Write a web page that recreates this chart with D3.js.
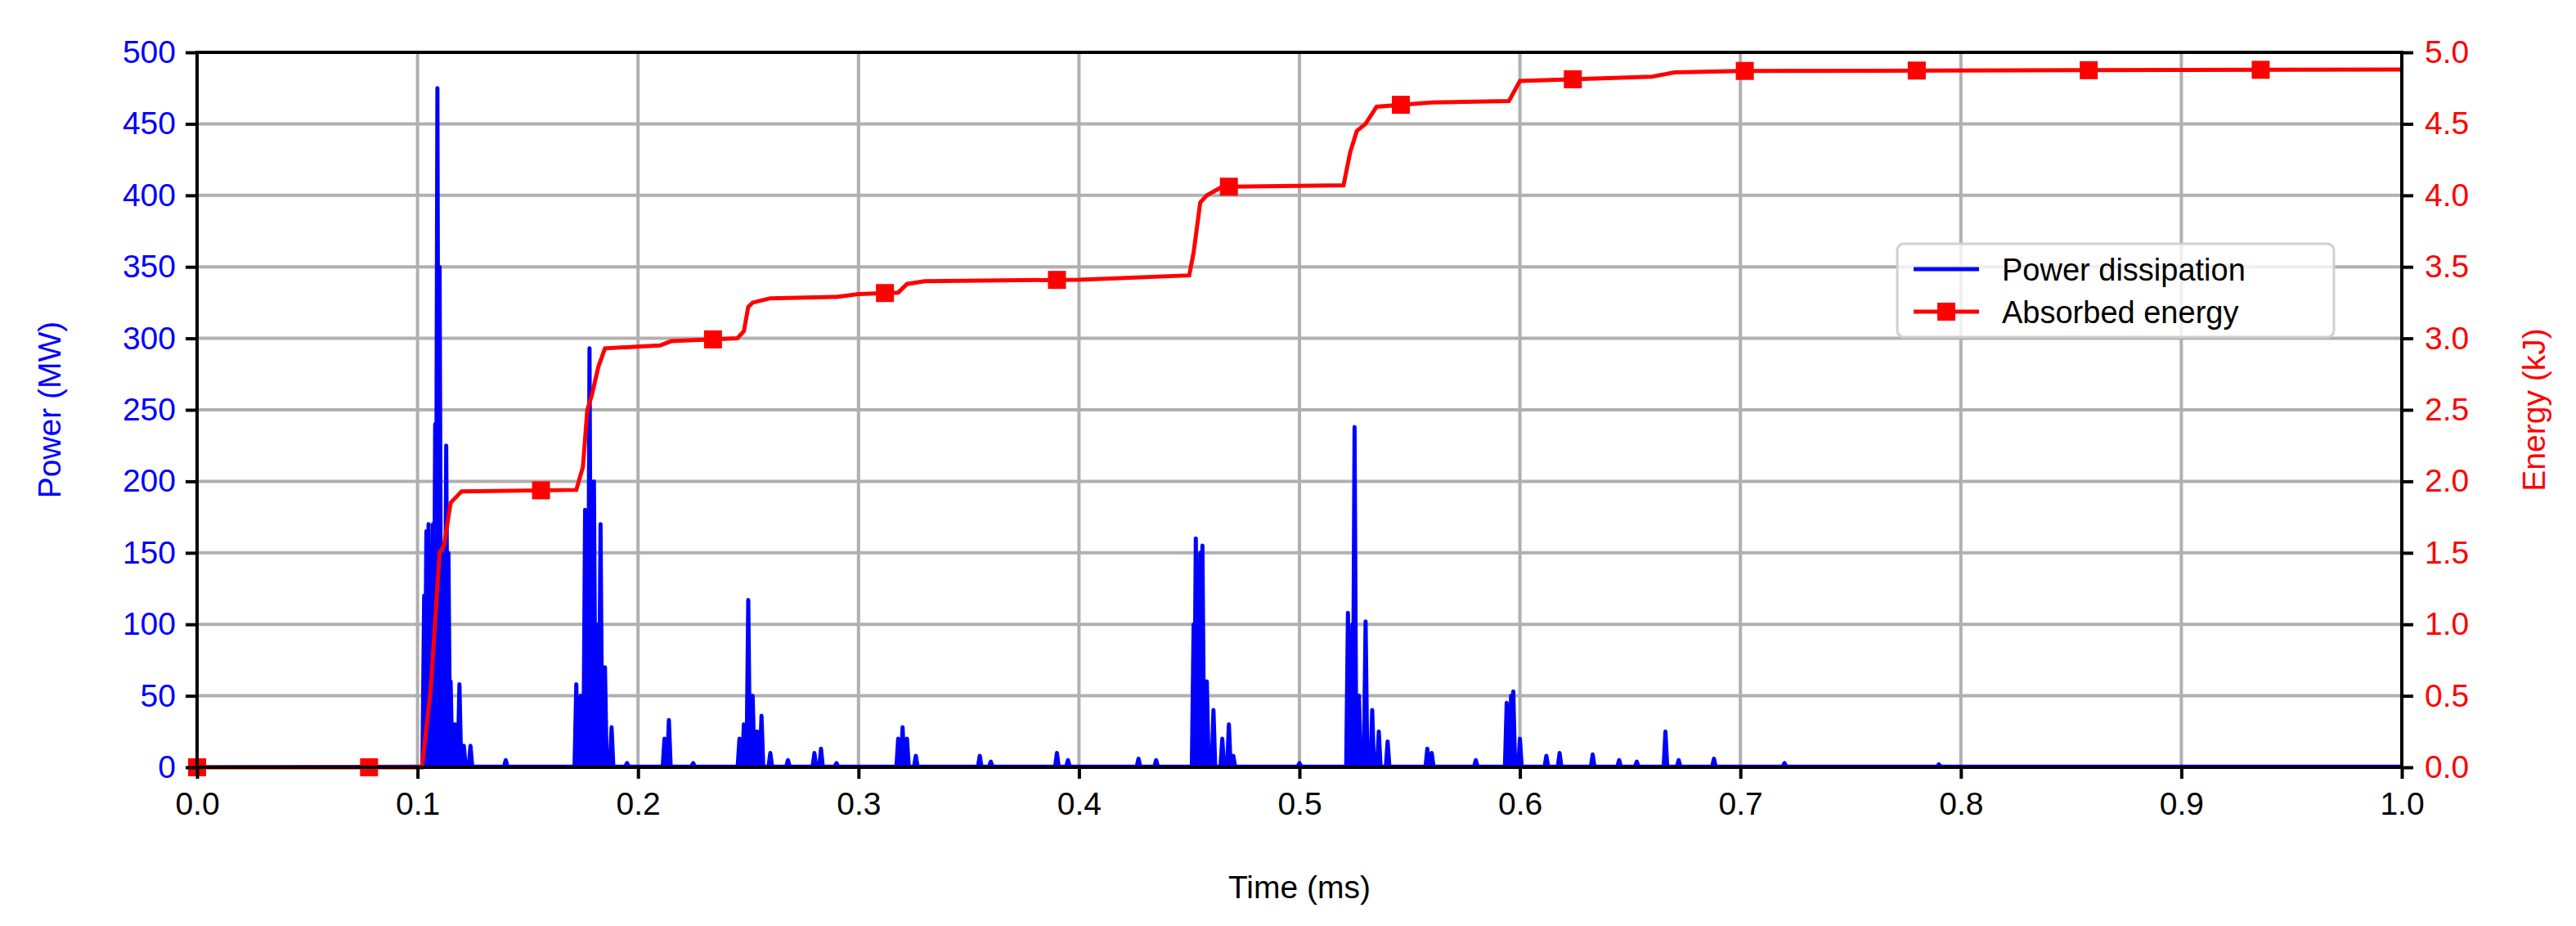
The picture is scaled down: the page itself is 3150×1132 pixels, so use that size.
<!DOCTYPE html>
<html><head><meta charset="utf-8">
<script src="https://cdn.jsdelivr.net/npm/d3@7"></script>
<style>body{margin:0;background:#fff}text{font-family:"Liberation Sans",Arial,sans-serif}</style>
</head><body><svg id="c" width="3150" height="1132"></svg>
<script>
// power spikes: time (ms) and peak (MW)
var powerT = [0.103,0.104,0.105,0.106,0.107,0.108,0.109,0.110,0.111,0.112,0.113,0.114,0.115,0.117,0.119,0.121,0.124,0.140,
  0.172,0.174,0.176,0.178,0.180,0.182,0.183,0.185,0.188,0.195,0.212,0.214,0.225,0.246,0.248,0.250,0.252,0.254,0.256,0.260,0.268,
  0.280,0.283,0.290,0.318,0.320,0.322,0.326,0.355,0.360,0.390,0.395,0.427,0.435,0.452,0.453,0.455,0.456,0.458,0.461,0.465,0.468,
  0.470,0.500,0.522,0.524,0.525,0.527,0.530,0.533,0.536,0.540,0.558,0.560,0.580,0.594,0.596,0.597,0.600,0.612,0.618,0.633,0.645,
  0.653,0.666,0.672,0.688,0.720,0.790];
var powerP = [120,165,170,100,170,240,475,350,150,100,225,150,60,30,58,15,15,5,
  58,50,180,293,200,100,170,70,28,3,20,33,3,20,30,117,50,25,36,10,5,
  10,13,3,20,28,20,8,8,4,10,5,6,5,100,160,150,155,60,40,20,30,
  8,3,108,100,238,50,102,40,25,18,13,10,5,45,50,53,20,8,10,9,5,
  4,25,5,6,3,2];
// absorbed energy: time (ms) and kJ
var energyT = [0,0.102,0.106,0.110,0.112,0.115,0.120,0.172,0.175,0.177,0.179,0.182,0.185,0.210,0.215,0.245,0.248,0.250,0.252,0.260,0.290,0.300,0.318,0.322,0.330,0.400,0.450,0.452,0.455,0.458,0.465,0.520,0.523,0.526,0.530,0.535,0.560,0.595,0.600,0.660,0.670,0.700,1.0];
var energyE = [0,0,0.55,1.50,1.55,1.85,1.93,1.94,2.10,2.50,2.60,2.80,2.93,2.95,2.98,3.00,3.05,3.22,3.25,3.28,3.29,3.31,3.32,3.38,3.40,3.41,3.44,3.60,3.95,4.00,4.06,4.07,4.30,4.45,4.50,4.62,4.65,4.66,4.80,4.83,4.86,4.87,4.88];
var markerT = [0,0.078,0.156,0.234,0.312,0.39,0.468,0.546,0.624,0.702,0.78,0.858,0.936];
var xTicks = [0,0.1,0.2,0.3,0.4,0.5,0.6,0.7,0.8,0.9,1.0];
var pTicks = [0,50,100,150,200,250,300,350,400,450,500];
var eTicks = [0,0.5,1,1.5,2,2.5,3,3.5,4,4.5,5];

var L=241,R=2937,T=64,B=938;
var svg=d3.select('#c');
var x=d3.scaleLinear().domain([0,1]).range([L,R]);
var yP=d3.scaleLinear().domain([0,500]).range([B,T]);
var yE=d3.scaleLinear().domain([0,5]).range([B,T]);
var grid='#b0b0b0';
svg.append('g').selectAll('line').data(xTicks).join('line')
  .attr('x1',d=>x(d)).attr('x2',d=>x(d)).attr('y1',T).attr('y2',B).attr('stroke',grid).attr('stroke-width',4);
svg.append('g').selectAll('line').data(pTicks).join('line')
  .attr('x1',L).attr('x2',R).attr('y1',d=>yP(d)).attr('y2',d=>yP(d)).attr('stroke',grid).attr('stroke-width',4);

var energyAt=function(t){var i=d3.bisectRight(energyT,t)-1;if(i>=energyT.length-1)return energyE[energyE.length-1];
  var f=(t-energyT[i])/(energyT[i+1]-energyT[i]);return energyE[i]+f*(energyE[i+1]-energyE[i]);};

// power line: each spike drawn as narrow triangle on zero baseline
var pts=[[0,0]];
powerT.forEach(function(t,i){pts.push([t-0.0008,0.5],[t,powerP[i]],[t+0.0008,0.5]);});
pts.push([1,0.5]);
svg.append('clipPath').attr('id','cp').append('rect').attr('x',L).attr('y',T-15).attr('width',R-L).attr('height',B-T+15);
svg.append('path').datum(pts).attr('clip-path','url(#cp)').attr('fill','none').attr('stroke','#0000ff').attr('stroke-width',5).attr('stroke-linejoin','round')
  .attr('d',d3.line().x(d=>x(d[0])).y(d=>yP(d[1])));
svg.append('path').datum(energyT.map((t,i)=>[t,energyE[i]])).attr('fill','none').attr('stroke','#ff0000').attr('stroke-width',5)
  .attr('d',d3.line().x(d=>x(d[0])).y(d=>yE(d[1])));
svg.append('g').selectAll('rect').data(markerT).join('rect')
  .attr('x',d=>x(d)-11).attr('y',d=>yE(energyAt(d))-11).attr('width',22).attr('height',22).attr('fill','#ff0000');

// axes
var ax=function(g,c){g.selectAll('.domain').remove();g.selectAll('line').attr('stroke','#000').attr('stroke-width',4);
  g.selectAll('text').attr('fill',c).style('font-size','39px');};
svg.append('g').attr('transform','translate(0,'+B+')').call(d3.axisBottom(x).tickValues(xTicks).tickFormat(d3.format('.1f')).tickSize(14).tickPadding(16)).call(g=>ax(g,'#000'));
svg.append('g').attr('transform','translate('+L+',0)').call(d3.axisLeft(yP).tickValues(pTicks).tickSize(14).tickPadding(12)).call(g=>ax(g,'#0000ff'));
svg.append('g').attr('transform','translate('+R+',0)').call(d3.axisRight(yE).tickValues(eTicks).tickFormat(d3.format('.1f')).tickSize(14).tickPadding(14)).call(g=>ax(g,'#ff0000'));
svg.append('rect').attr('x',L).attr('y',T).attr('width',R-L).attr('height',B-T).attr('fill','none').attr('stroke','#000').attr('stroke-width',4);

svg.append('text').attr('x',(L+R)/2).attr('y',1098).attr('text-anchor','middle').style('font-size','39px').text('Time (ms)');
svg.append('text').attr('transform','translate(74,'+(T+B)/2+') rotate(-90)').attr('text-anchor','middle').attr('fill','#0000ff').style('font-size','39px').text('Power (MW)');
svg.append('text').attr('transform','translate(3112,'+(T+B)/2+') rotate(-90)').attr('text-anchor','middle').attr('fill','#ff0000').style('font-size','39px').text('Energy (kJ)');

// legend
var lg=svg.append('g').attr('transform','translate(2320,298)');
lg.append('rect').attr('width',534).attr('height',114).attr('rx',8).attr('fill','#fff').attr('fill-opacity',0.8).attr('stroke','#d0d0d0').attr('stroke-width',3);
lg.append('line').attr('x1',20).attr('x2',100).attr('y1',31).attr('y2',31).attr('stroke','#0000ff').attr('stroke-width',5);
lg.append('line').attr('x1',20).attr('x2',100).attr('y1',83).attr('y2',83).attr('stroke','#ff0000').attr('stroke-width',5);
lg.append('rect').attr('x',49).attr('y',72).attr('width',22).attr('height',22).attr('fill','#ff0000');
lg.append('text').attr('x',128).attr('y',45).style('font-size','38px').text('Power dissipation');
lg.append('text').attr('x',128).attr('y',97).style('font-size','38px').text('Absorbed energy');
</script></body></html>
